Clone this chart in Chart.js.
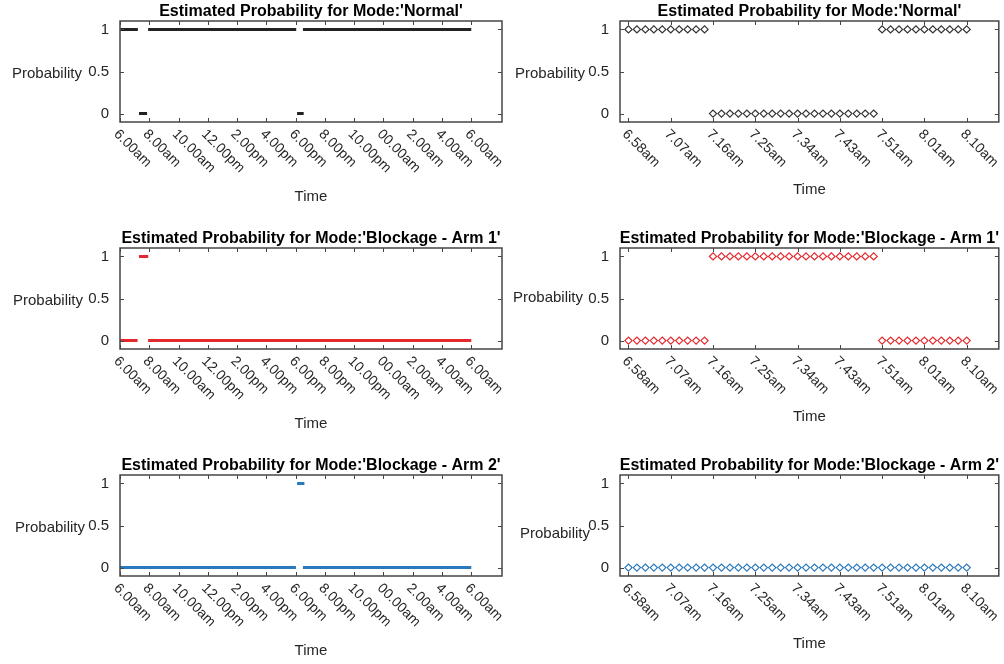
<!DOCTYPE html>
<html>
<head>
<meta charset="utf-8">
<script src="https://cdn.jsdelivr.net/npm/chart.js@4.4.1/dist/chart.umd.min.js"></script>
<style>
  html, body { margin: 0; padding: 0; background: #fff; overflow: hidden; }
  #page { position: relative; width: 1004px; height: 664px; }
  #page canvas { position: absolute; }
</style>
</head>
<body>
<div id="page"></div>
<script>
// ---- data ----
// y axis
const yTicks = [0, 0.5, 1];
const yTickLabels = ['0', '0.5', '1'];

// left column: a whole day, hours after 6.00am
const dayTicks = [0, 2, 4, 6, 8, 10, 12, 14, 16, 18, 20, 22, 24];
const dayTickLabels = ['6.00am', '8.00am', '10.00am', '12.00pm', '2.00pm', '4.00pm', '6.00pm',
  '8.00pm', '10.00pm', '00.00am', '2.00am', '4.00am', '6.00am'];

// runs of constant probability (start hour, end hour, value)
const normalDayStart = [0, 1.3, 1.92, 12.1, 12.5];
const normalDayEnd = [1.22, 1.85, 12.04, 12.55, 24];
const normalDayValue = [1, 0, 1, 0, 1];

const arm1DayStart = [0, 1.3, 1.92];
const arm1DayEnd = [1.2, 1.93, 24];
const arm1DayValue = [0, 1, 0];

const arm2DayStart = [0, 12.1, 12.5];
const arm2DayEnd = [12.02, 12.6, 24];
const arm2DayValue = [0, 1, 0];

// right column: zoom on the morning event, one sample per marker
const sampleIdx = [1, 2, 3, 4, 5, 6, 7, 8, 9, 10, 11, 12, 13, 14, 15, 16, 17, 18, 19, 20, 21,
  22, 23, 24, 25, 26, 27, 28, 29, 30, 31, 32, 33, 34, 35, 36, 37, 38, 39, 40, 41];
const zoomTicks = [1, 6, 11, 16, 21, 26, 31, 36, 41];
const zoomTickLabels = ['6.58am', '7.07am', '7.16am', '7.25am', '7.34am', '7.43am', '7.51am', '8.01am', '8.10am'];

const normalZoom = [1, 1, 1, 1, 1, 1, 1, 1, 1, 1,
  0, 0, 0, 0, 0, 0, 0, 0, 0, 0, 0, 0, 0, 0, 0, 0, 0, 0, 0, 0,
  1, 1, 1, 1, 1, 1, 1, 1, 1, 1, 1];
const arm1Zoom = [0, 0, 0, 0, 0, 0, 0, 0, 0, 0,
  1, 1, 1, 1, 1, 1, 1, 1, 1, 1, 1, 1, 1, 1, 1, 1, 1, 1, 1, 1,
  0, 0, 0, 0, 0, 0, 0, 0, 0, 0, 0];
const arm2Zoom = [0, 0, 0, 0, 0, 0, 0, 0, 0, 0,
  0, 0, 0, 0, 0, 0, 0, 0, 0, 0, 0, 0, 0, 0, 0, 0, 0, 0, 0, 0,
  0, 0, 0, 0, 0, 0, 0, 0, 0, 0, 0];

const titles = ["Estimated Probability for Mode:'Normal'",
  "Estimated Probability for Mode:'Blockage - Arm 1'",
  "Estimated Probability for Mode:'Blockage - Arm 2'"];
const colors = ['#222222', '#e4282d', '#2a78bd'];

const FONT = '"Liberation Sans", Arial, Helvetica, sans-serif';

// runs -> line points, a null between runs breaks the line
function runPoints(starts, ends, values) {
  const pts = [];
  starts.forEach((s, i) => {
    if (i > 0) pts.push({ x: (ends[i - 1] + s) / 2, y: null });
    pts.push({ x: s, y: values[i] }, { x: ends[i], y: values[i] });
  });
  return pts;
}

// matlab style box, inner ticks and all the texts
function makeFrame(p) {
  return {
    id: 'frame',
    afterDatasetsDraw(chart) {
      const { ctx, chartArea: a, scales: { x, y } } = chart;
      ctx.save();
      ctx.strokeStyle = '#454545';
      ctx.lineWidth = 1.5;
      ctx.strokeRect(a.left, a.top, a.right - a.left, a.bottom - a.top);

      ctx.lineWidth = 1;
      ctx.beginPath();
      p.xTicks.forEach(v => {
        const px = Math.round(x.getPixelForValue(v)) + 0.5;
        ctx.moveTo(px, a.bottom); ctx.lineTo(px, a.bottom - 4);
        ctx.moveTo(px, a.top); ctx.lineTo(px, a.top + 4);
      });
      yTicks.forEach(v => {
        const py = Math.round(y.getPixelForValue(v)) + 0.5;
        ctx.moveTo(a.left, py); ctx.lineTo(a.left + 4, py);
        ctx.moveTo(a.right, py); ctx.lineTo(a.right - 4, py);
      });
      ctx.stroke();

      ctx.fillStyle = '#262626';
      ctx.font = '15px ' + FONT;
      ctx.textAlign = 'right';
      ctx.textBaseline = 'middle';
      yTicks.forEach((v, i) => ctx.fillText(yTickLabels[i], a.left - p.yTickGap, y.getPixelForValue(v)));

      ctx.font = '14px ' + FONT;
      ctx.textAlign = 'left';
      p.xTicks.forEach((v, i) => {
        ctx.save();
        ctx.translate(x.getPixelForValue(v) - 4, a.bottom + 10);
        ctx.rotate(Math.PI / 4);
        ctx.fillText(p.xLabels[i], 0, 0);
        ctx.restore();
      });

      ctx.font = '15px ' + FONT;
      ctx.textAlign = 'right';
      ctx.fillText('Probability', a.left - p.ylabDx, y.getPixelForValue(0.5) + p.ylabDy);
      ctx.textAlign = 'center';
      ctx.fillText('Time', (a.left + a.right) / 2, a.bottom + p.timeDy);

      ctx.fillStyle = '#000';
      ctx.font = 'bold 16px ' + FONT;
      ctx.fillText(p.title, (a.left + a.right) / 2, a.top - 9.5);
      ctx.restore();
    }
  };
}

const rowTop = [0, 227, 454];
const rowHeight = [227, 227, 210];
const dayRuns = [
  [normalDayStart, normalDayEnd, normalDayValue],
  [arm1DayStart, arm1DayEnd, arm1DayValue],
  [arm2DayStart, arm2DayEnd, arm2DayValue]
];
const zoomSeries = [normalZoom, arm1Zoom, arm2Zoom];
const ylabDxLeft = [38, 37, 35], ylabDyLeft = [2, 2, 2];
const ylabDxRight = [35, 37, 30], ylabDyRight = [2, -1, 8];

const page = document.getElementById('page');

function addPanel(p) {
  const canvas = document.createElement('canvas');
  canvas.width = p.w;
  canvas.height = p.h;
  canvas.style.left = p.left + 'px';
  canvas.style.top = p.top + 'px';
  canvas.style.width = p.w + 'px';
  canvas.style.height = p.h + 'px';
  page.appendChild(canvas);

  new Chart(canvas, {
    type: 'line',
    data: { datasets: [p.dataset] },
    options: {
      responsive: false,
      animation: false,
      events: [],
      layout: { padding: { left: p.padLeft, right: p.padRight, top: 21, bottom: p.h - 21 - 101 } },
      plugins: { legend: { display: false }, tooltip: { enabled: false } },
      scales: {
        x: { type: 'linear', display: false, min: p.xMin, max: p.xMax },
        y: { type: 'linear', display: false, min: -0.1, max: 1.1 }
      }
    },
    plugins: [makeFrame(p)]
  });
}

for (let r = 0; r < 3; r++) {
  // whole day
  addPanel({
    left: 0, top: rowTop[r], w: 506, h: rowHeight[r], padLeft: 120, padRight: 4,
    xMin: 0, xMax: 26.1, xTicks: dayTicks, xLabels: dayTickLabels,
    title: titles[r], yTickGap: 11, ylabDx: ylabDxLeft[r], ylabDy: ylabDyLeft[r], timeDy: 75,
    dataset: {
      data: runPoints(...dayRuns[r]),
      borderColor: colors[r],
      borderWidth: 3,
      borderCapStyle: 'butt',
      pointRadius: 0,
      spanGaps: false
    }
  });
  // zoom
  addPanel({
    left: 506, top: rowTop[r], w: 498, h: rowHeight[r], padLeft: 114, padRight: 5,
    xMin: 0, xMax: 44.8, xTicks: zoomTicks, xLabels: zoomTickLabels,
    title: titles[r], yTickGap: 11, ylabDx: ylabDxRight[r], ylabDy: ylabDyRight[r], timeDy: 68,
    dataset: {
      data: sampleIdx.map((x, i) => ({ x: x, y: zoomSeries[r][i] })),
      showLine: false,
      pointStyle: 'rectRot',
      pointRadius: 3.6,
      pointBorderWidth: 1.2,
      pointBackgroundColor: 'rgba(255,255,255,0)',
      pointBorderColor: colors[r] === '#222222' ? '#333333' : colors[r]
    }
  });
}
</script>
</body>
</html>
